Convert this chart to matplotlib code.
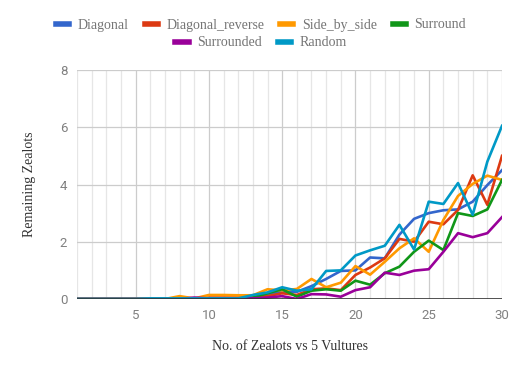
import matplotlib
matplotlib.use("Agg")
import matplotlib.pyplot as plt
from matplotlib.lines import Line2D

x = list(range(1, 31))
diagonal = [0, 0, 0, 0, 0, 0, 0, 0, 0, 0.02, 0.02, 0.02, 0.05, 0.15, 0.25, 0.25, 0.45, 0.7, 0.98, 1.0,
            1.45, 1.42, 2.25, 2.8, 3.0, 3.1, 3.13, 3.4, 3.98, 4.5]
diagonal_reverse = [0, 0, 0, 0, 0, 0, 0, 0, 0, 0.05, 0.05, 0.05, 0.05, 0.1, 0.2, 0.14, 0.34, 0.37, 0.31, 0.84,
                    1.1, 1.42, 2.1, 2.0, 2.7, 2.61, 3.11, 4.32, 3.29, 5.0]
side_by_side = [0, 0, 0, 0, 0, 0, 0, 0.1, 0.02, 0.14, 0.14, 0.13, 0.13, 0.34, 0.3, 0.35, 0.7, 0.41, 0.57, 1.15,
                0.85, 1.3, 1.77, 2.12, 1.65, 2.76, 3.6, 4.02, 4.31, 4.16]
surround = [0, 0, 0, 0, 0, 0, 0, 0, 0, 0, 0, 0, 0.05, 0.2, 0.34, 0.08, 0.29, 0.34, 0.29, 0.64,
            0.5, 0.9, 1.13, 1.65, 2.04, 1.71, 3.0, 2.9, 3.13, 4.16]
surrounded = [0, 0, 0, 0, 0, 0, 0, 0, 0.05, 0.02, 0.02, 0.02, 0.02, 0.05, 0.1, 0.0, 0.17, 0.16, 0.08, 0.31,
              0.41, 0.92, 0.84, 0.99, 1.04, 1.65, 2.3, 2.16, 2.3, 2.86]
random_ = [0, 0, 0, 0, 0, 0.02, 0.02, 0.02, 0.02, 0.02, 0.02, 0.02, 0.14, 0.23, 0.41, 0.29, 0.34, 0.98, 1.0, 1.52,
           1.7, 1.86, 2.59, 1.73, 3.4, 3.32, 4.05, 2.94, 4.8, 6.05]

names = ["Diagonal", "Diagonal_reverse", "Side_by_side", "Surround", "Surrounded", "Random"]
series = [diagonal, diagonal_reverse, side_by_side, surround, surrounded, random_]
colors = ["#3366CC", "#DC3912", "#FF9900", "#109618", "#990099", "#0099C6"]

xticks = [5, 10, 15, 20, 25, 30]
yticks = [0, 2, 4, 6, 8]

W, H = 522, 371
fig = plt.figure(figsize=(W / 100, H / 100), dpi=100)
ax = fig.add_axes([77 / W, 1 - 299 / H, (502 - 77) / W, (299 - 70) / H])

for xv in range(1, 31):
    ax.axvline(xv, color="#cccccc" if xv % 5 == 0 else "#e6e6e6", lw=0.9, zorder=0)
for yv in yticks[1:]:
    ax.axhline(yv, color="#cccccc", lw=0.9, zorder=0)

for name, s, c in zip(names, series, colors):
    ax.plot(x, s, color=c, lw=1.9, label=name, zorder=3, solid_joinstyle="round")

ax.axhline(0, color="#333333", lw=1.2, zorder=4)
ax.set_xlim(1, 30)
ax.set_ylim(0, 8)
ax.set_xticks(xticks)
ax.set_yticks(yticks)
for sp in ax.spines.values():
    sp.set_visible(False)
ax.tick_params(length=0, colors="#757575", labelsize=9.5, pad=7)
for lab in ax.get_xticklabels() + ax.get_yticklabels():
    lab.set_fontfamily("Roboto")
    lab.set_color("#808080")

serif = "Liberation Serif"
ax.set_xlabel("No. of Zealots vs 5 Vultures", family=serif, fontsize=10, color="#333333", labelpad=13)
ax.set_ylabel("Remaining Zealots", family=serif, fontsize=10, color="#333333", labelpad=17)

handles = [Line2D([0], [0], color=c, lw=4) for c in colors]
leg1 = fig.legend(handles[:4], names[:4], loc="center", bbox_to_anchor=(0.5, 1 - 25 / H), ncol=4,
                  frameon=False, handlelength=0.95, columnspacing=1.15, handletextpad=0.6,
                  prop={"family": serif, "size": 10})
leg2 = fig.legend(handles[4:], names[4:], loc="center", bbox_to_anchor=(0.5, 1 - 43 / H), ncol=2,
                  frameon=False, handlelength=0.95, columnspacing=1.15, handletextpad=0.6,
                  prop={"family": serif, "size": 10})
for leg in (leg1, leg2):
    for t in leg.get_texts():
        t.set_color("#757575")

fig.savefig("out.png", dpi=100)
